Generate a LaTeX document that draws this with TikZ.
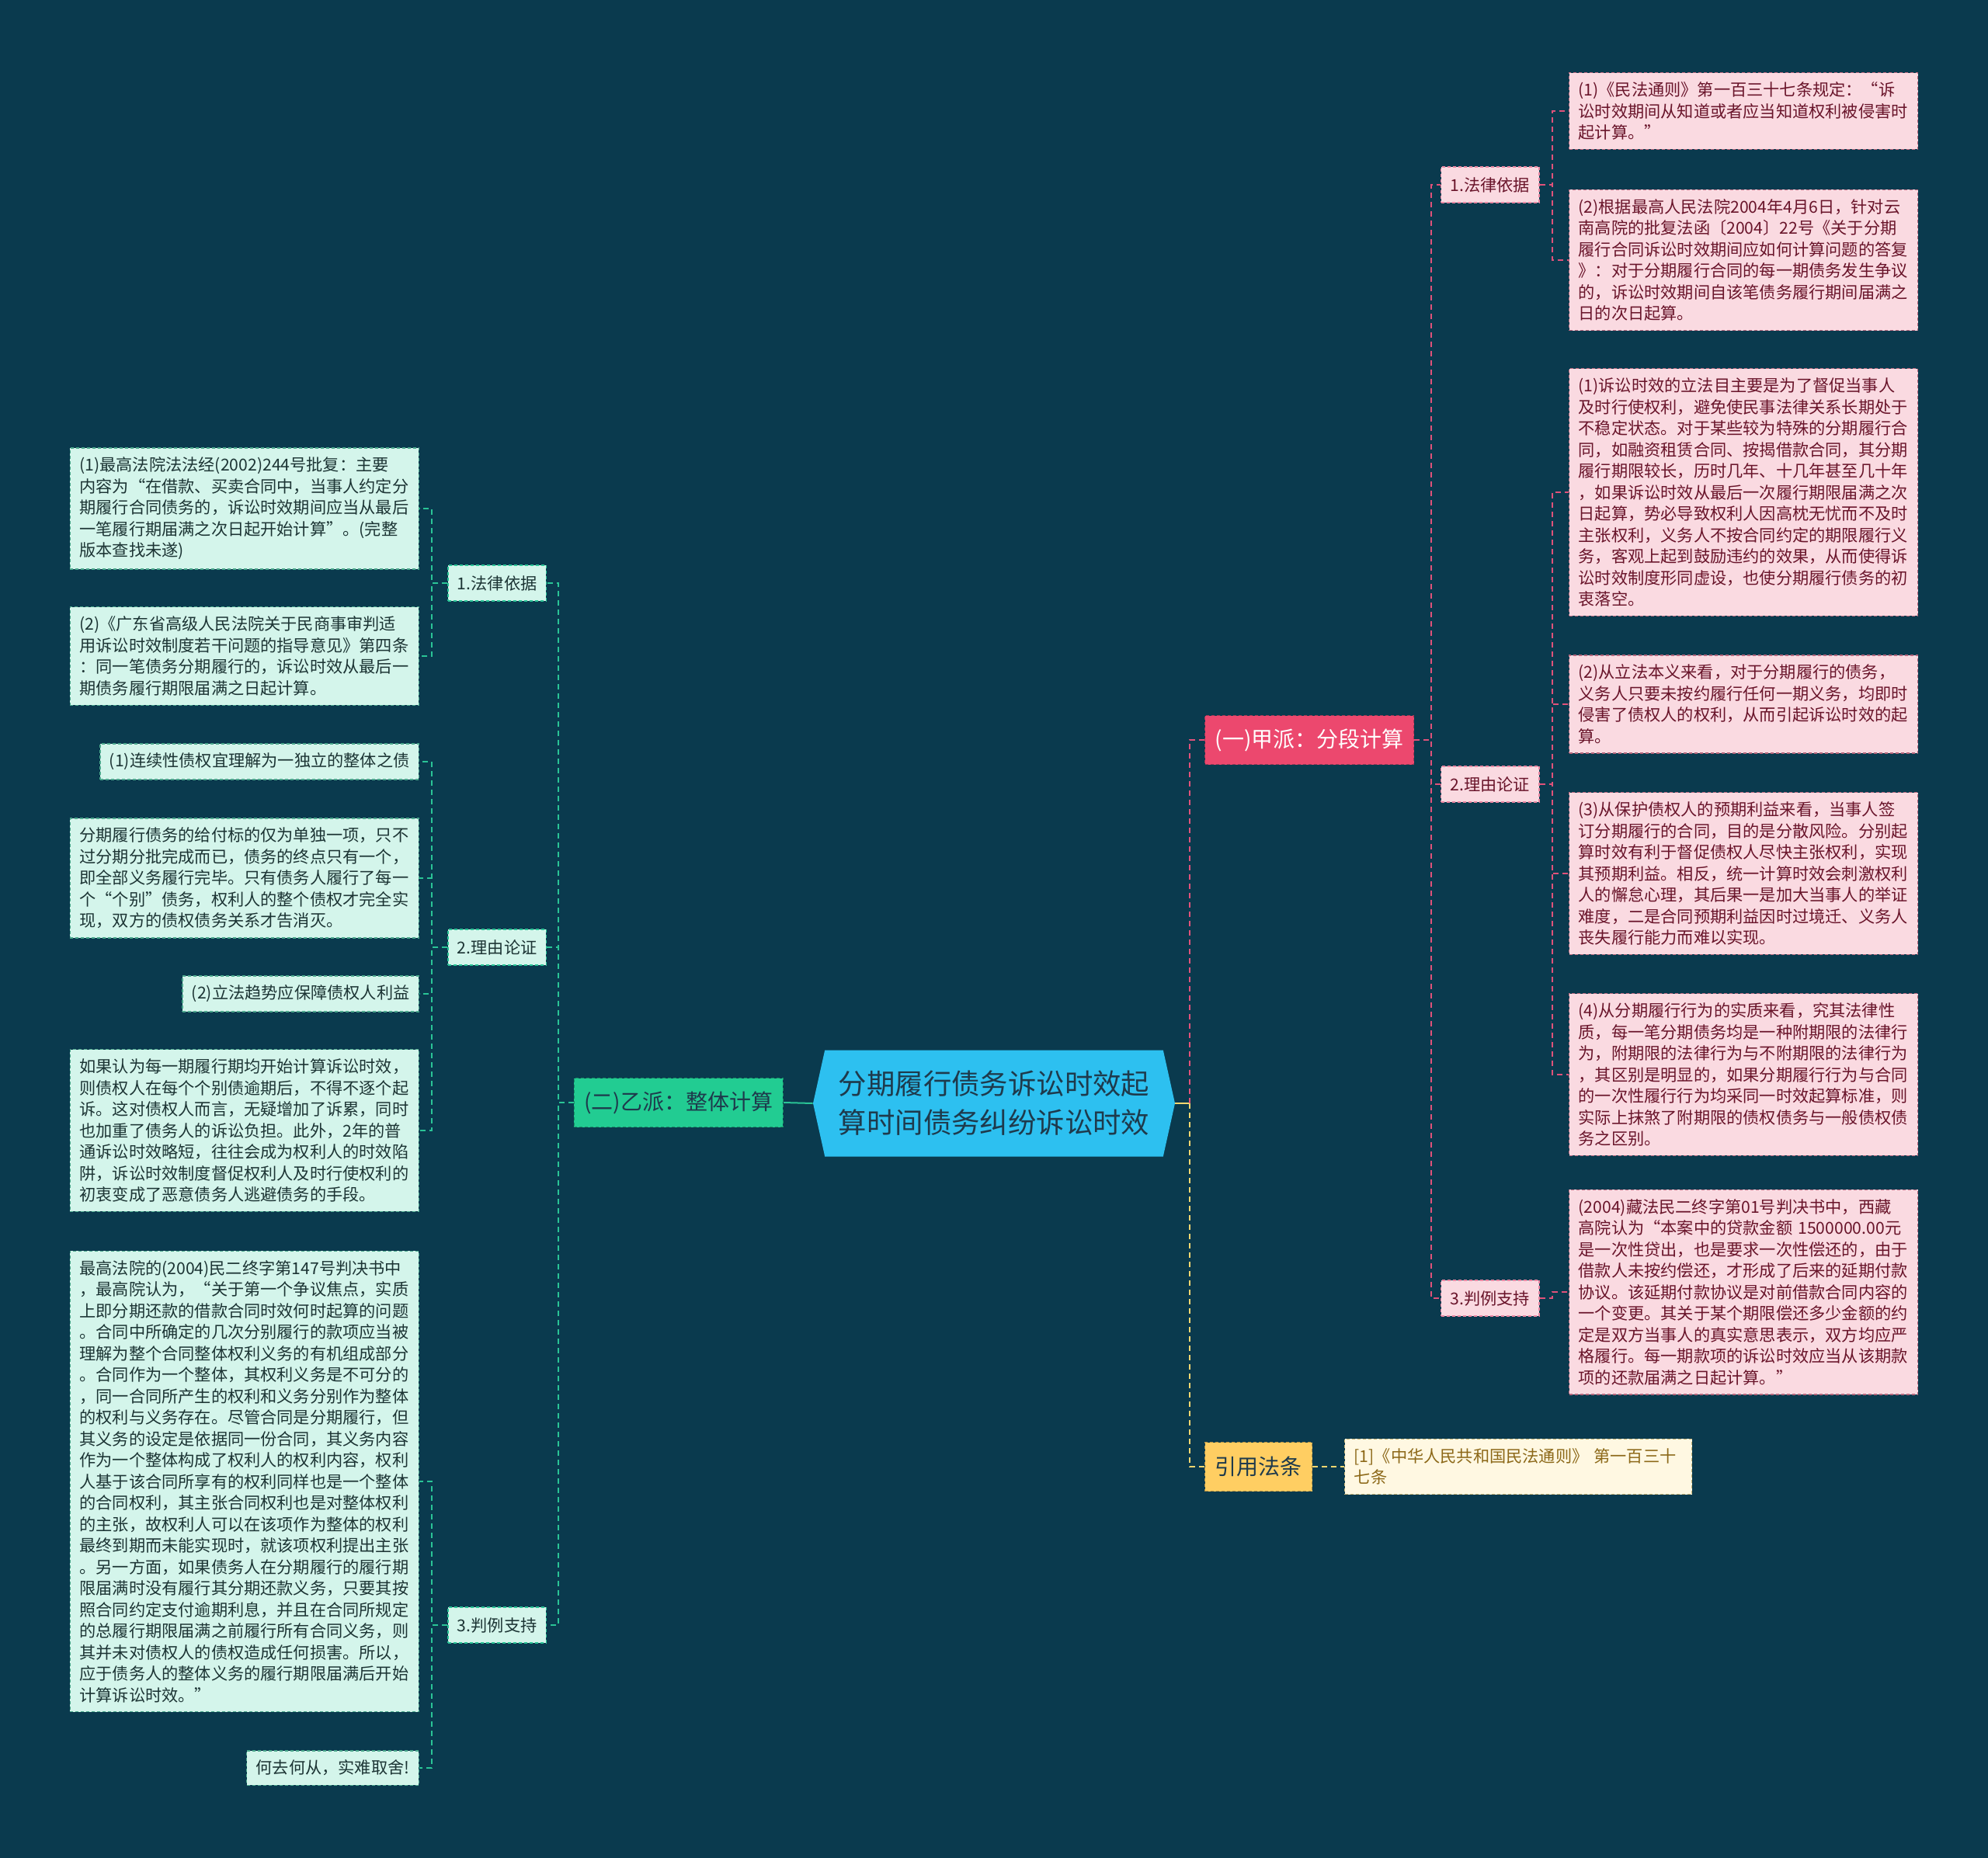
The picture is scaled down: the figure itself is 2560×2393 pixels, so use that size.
\documentclass[tikz,border=0pt]{standalone}
\usepackage{fontspec}
\setmainfont{Noto Sans CJK SC}
\usetikzlibrary{positioning,shapes.symbols}
\definecolor{bgteal}{RGB}{10,58,78}
\definecolor{rootblue}{RGB}{45,192,240}
\definecolor{rootink}{RGB}{30,58,76}
\definecolor{jiared}{RGB}{236,72,110}
\definecolor{jialine}{RGB}{224,82,122}
\definecolor{jialight}{RGB}{250,218,225}
\definecolor{jiaink}{RGB}{105,20,42}
\definecolor{yigreen}{RGB}{34,204,146}
\definecolor{yiline}{RGB}{42,196,150}
\definecolor{yilight}{RGB}{212,245,235}
\definecolor{yiink}{RGB}{28,52,52}
\definecolor{citegold}{RGB}{255,206,98}
\definecolor{citeline}{RGB}{245,214,112}
\definecolor{citelight}{RGB}{255,248,226}
\definecolor{citeink}{RGB}{140,104,24}
\newcommand{\leaffont}{\fontsize{10.6}{13.75}\selectfont}

\begin{document}
\begin{tikzpicture}[x=0.5pt,y=-0.5pt,
      rootnode/.style={signal,signal to=west and east,signal pointer angle=155,fill=rootblue,text=rootink,
        minimum width=233pt,minimum height=68.5pt,align=center,font=\fontsize{18.2}{25}\selectfont},
      topic/.style={draw,dash pattern=on 2pt off 1.5pt,line width=.6pt,minimum height=31.5pt,inner xsep=6.5pt,font=\fontsize{14}{16}\selectfont},
      sub/.style={draw,dash pattern=on 2pt off 1.5pt,line width=.6pt,minimum height=23pt,inner xsep=6pt,font=\leaffont},
      leaf/.style={draw,dash pattern=on 2pt off 1.5pt,line width=.6pt,inner xsep=6pt,inner ysep=6pt,font=\leaffont,align=left},
      wide/.style={text width=212.5pt},
      jsub/.style={sub,fill=jialight,draw=jialine!70,text=jiaink},
      jleaf/.style={leaf,fill=jialight,draw=jialine!55!gray,text=jiaink},
      ysub/.style={sub,fill=yilight,draw=yiline,text=yiink},
      yleaf/.style={leaf,fill=yilight,draw=yiline!60!gray,text=yiink},
      conn/.style={line width=1pt,dash pattern=on 3.5pt off 2.5pt}]
      \fill[bgteal] (0,0) rectangle (2560,2393);
      \useasboundingbox (0,0) rectangle (2560,2393);

      \node[rootnode] (root) at (1280,1421) {分期履行债务诉讼时效起\\算时间债务纠纷诉讼时效};

      \node[topic,fill=jiared,draw=jialine!70!black,text=white,anchor=west] (jia) at (1551,953) {(一)甲派：分段计算};
      \node[topic,fill=citegold,draw=citegold!70!black,text=rootink,anchor=west] (cite) at (1551,1889) {引用法条};
      \node[topic,fill=yigreen,draw=yigreen!70!black,text=rootink,anchor=east] (yi) at (1009,1420) {(二)乙派：整体计算};

      \node[jsub,anchor=west] (ja) at (1855,238) {1.法律依据};
      \node[jsub,anchor=west] (jb) at (1855,1010) {2.理由论证};
      \node[jsub,anchor=west] (jc) at (1855,1672) {3.判例支持};
      \node[ysub,anchor=east] (ya) at (704,751) {1.法律依据};
      \node[ysub,anchor=east] (yb) at (704,1220) {2.理由论证};
      \node[ysub,anchor=east] (yc) at (704,2093) {3.判例支持};

      \node[jleaf,wide,anchor=west] (ja1) at (2020,143) {(1)《民法通则》第一百三十七条规定：“诉\\讼时效期间从知道或者应当知道权利被侵害时\\起计算。”};
      \node[jleaf,wide,anchor=west] (ja2) at (2020,335) {(2)根据最高人民法院2004年4月6日，针对云\\南高院的批复法函〔2004〕22号《关于分期\\履行合同诉讼时效期间应如何计算问题的答复\\》：对于分期履行合同的每一期债务发生争议\\的，诉讼时效期间自该笔债务履行期间届满之\\日的次日起算。};
      \node[jleaf,wide,anchor=west] (jb1) at (2020,634) {(1)诉讼时效的立法目主要是为了督促当事人\\及时行使权利，避免使民事法律关系长期处于\\不稳定状态。对于某些较为特殊的分期履行合\\同，如融资租赁合同、按揭借款合同，其分期\\履行期限较长，历时几年、十几年甚至几十年\\，如果诉讼时效从最后一次履行期限届满之次\\日起算，势必导致权利人因高枕无忧而不及时\\主张权利，义务人不按合同约定的期限履行义\\务，客观上起到鼓励违约的效果，从而使得诉\\讼时效制度形同虚设，也使分期履行债务的初\\衷落空。};
      \node[jleaf,wide,anchor=west] (jb2) at (2020,907) {(2)从立法本义来看，对于分期履行的债务，\\义务人只要未按约履行任何一期义务，均即时\\侵害了债权人的权利，从而引起诉讼时效的起\\算。};
      \node[jleaf,wide,anchor=west] (jb3) at (2020,1125) {(3)从保护债权人的预期利益来看，当事人签\\订分期履行的合同，目的是分散风险。分别起\\算时效有利于督促债权人尽快主张权利，实现\\其预期利益。相反，统一计算时效会刺激权利\\人的懈怠心理，其后果一是加大当事人的举证\\难度，二是合同预期利益因时过境迁、义务人\\丧失履行能力而难以实现。};
      \node[jleaf,wide,anchor=west] (jb4) at (2020,1384) {(4)从分期履行行为的实质来看，究其法律性\\质，每一笔分期债务均是一种附期限的法律行\\为，附期限的法律行为与不附期限的法律行为\\，其区别是明显的，如果分期履行行为与合同\\的一次性履行行为均采同一时效起算标准，则\\实际上抹煞了附期限的债权债务与一般债权债\\务之区别。};
      \node[jleaf,wide,anchor=west] (jc1) at (2020,1664) {(2004)藏法民二终字第01号判决书中，西藏\\高院认为“本案中的贷款金额 1500000.00元\\是一次性贷出，也是要求一次性偿还的，由于\\借款人未按约偿还，才形成了后来的延期付款\\协议。该延期付款协议是对前借款合同内容的\\一个变更。其关于某个期限偿还多少金额的约\\定是双方当事人的真实意思表示，双方均应严\\格履行。每一期款项的诉讼时效应当从该期款\\项的还款届满之日起计算。”};

      \node[yleaf,wide,anchor=east] (ya1) at (540,655) {(1)最高法院法法经(2002)244号批复：主要\\内容为“在借款、买卖合同中，当事人约定分\\期履行合同债务的，诉讼时效期间应当从最后\\一笔履行期届满之次日起开始计算”。(完整\\版本查找未遂)};
      \node[yleaf,wide,anchor=east] (ya2) at (540,845) {(2)《广东省高级人民法院关于民商事审判适\\用诉讼时效制度若干问题的指导意见》第四条\\：同一笔债务分期履行的，诉讼时效从最后一\\期债务履行期限届满之日起计算。};
      \node[yleaf,anchor=east] (yb1) at (540,981) {(1)连续性债权宜理解为一独立的整体之债};
      \node[yleaf,wide,anchor=east] (yb2) at (540,1131) {分期履行债务的给付标的仅为单独一项，只不\\过分期分批完成而已，债务的终点只有一个，\\即全部义务履行完毕。只有债务人履行了每一\\个“个别”债务，权利人的整个债权才完全实\\现，双方的债权债务关系才告消灭。};
      \node[yleaf,anchor=east] (yb3) at (540,1280) {(2)立法趋势应保障债权人利益};
      \node[yleaf,wide,anchor=east] (yb4) at (540,1456) {如果认为每一期履行期均开始计算诉讼时效，\\则债权人在每个个别债逾期后，不得不逐个起\\诉。这对债权人而言，无疑增加了诉累，同时\\也加重了债务人的诉讼负担。此外，2年的普\\通诉讼时效略短，往往会成为权利人的时效陷\\阱，诉讼时效制度督促权利人及时行使权利的\\初衷变成了恶意债务人逃避债务的手段。};
      \node[yleaf,wide,anchor=east] (yc1) at (540,1908) {最高法院的(2004)民二终字第147号判决书中\\，最高院认为，“关于第一个争议焦点，实质\\上即分期还款的借款合同时效何时起算的问题\\。合同中所确定的几次分别履行的款项应当被\\理解为整个合同整体权利义务的有机组成部分\\。合同作为一个整体，其权利义务是不可分的\\，同一合同所产生的权利和义务分别作为整体\\的权利与义务存在。尽管合同是分期履行，但\\其义务的设定是依据同一份合同，其义务内容\\作为一个整体构成了权利人的权利内容，权利\\人基于该合同所享有的权利同样也是一个整体\\的合同权利，其主张合同权利也是对整体权利\\的主张，故权利人可以在该项作为整体的权利\\最终到期而未能实现时，就该项权利提出主张\\。另一方面，如果债务人在分期履行的履行期\\限届满时没有履行其分期还款义务，只要其按\\照合同约定支付逾期利息，并且在合同所规定\\的总履行期限届满之前履行所有合同义务，则\\其并未对债权人的债权造成任何损害。所以，\\应于债务人的整体义务的履行期限届满后开始\\计算诉讼时效。”};
      \node[yleaf,anchor=east] (yc2) at (540,2277) {何去何从，实难取舍!};

      \node[leaf,fill=citelight,draw=citeline!60!gray,text=citeink,text width=211.5pt,right=20.5pt of cite] (citeleaf) {[1]《中华人民共和国民法通则》 第一百三十\\七条};

      \coordinate (jr) at (1532,1421);
      \draw[citeline,line width=1pt] (root.east) -- (jr);
      \draw[conn,jialine] (jr) |- (jia.west);
      \draw[conn,citeline] (jr) |- (cite.west);
      \draw[conn,citeline] (cite) -- (citeleaf);
      \draw[yiline,line width=1pt] (root.west) -- (yi.east);
      \foreach \s in {ja,jb,jc} \draw[conn,jialine] (jia.east) -- ++(22,0) |- (\s.west);
      \foreach \s in {ya,yb,yc} \draw[conn,yiline] (yi.west) -- ++(-20,0) |- (\s.east);
      \foreach \c in {ja1,ja2} \draw[conn,jialine] (ja.east) -- ++(16,0) |- (\c.west);
      \foreach \c in {jb1,jb2,jb3,jb4} \draw[conn,jialine] (jb.east) -- ++(16,0) |- (\c.west);
      \draw[conn,jialine] (jc.east) -- ++(16,0) |- (jc1.west);
      \foreach \c in {ya1,ya2} \draw[conn,yiline] (ya.west) -- ++(-20,0) |- (\c.east);
      \foreach \c in {yb1,yb2,yb3,yb4} \draw[conn,yiline] (yb.west) -- ++(-20,0) |- (\c.east);
      \foreach \c in {yc1,yc2} \draw[conn,yiline] (yc.west) -- ++(-20,0) |- (\c.east);
    \end{tikzpicture}
\end{document}
